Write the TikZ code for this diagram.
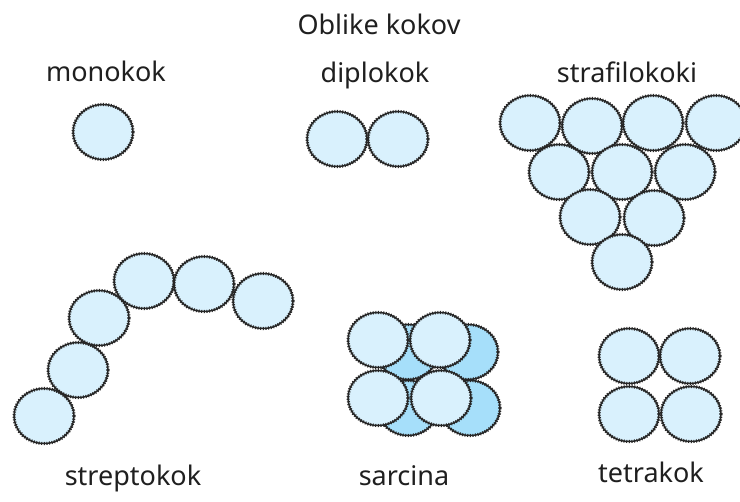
\documentclass[tikz,border=0pt]{standalone}
\usepackage{fontspec}
\setmainfont{Noto Sans}
\usetikzlibrary{shapes.geometric}
\definecolor{cellfront}{HTML}{D9F1FD}
\definecolor{cellback}{HTML}{A6DFFA}
\definecolor{cellrim}{HTML}{262626}
\tikzset{
  x=1pt, y=-1pt,
  coccus/.style={ellipse, inner sep=0pt, minimum width=60pt, minimum height=55pt,
    draw=cellrim, line width=1.5pt, fill=cellfront,
    postaction={draw=cellrim, line width=3.2pt, dash pattern=on 1pt off 1.6pt}},
  coccusback/.style={coccus, fill=cellback},
  caption/.style={font=\fontsize{27}{30}\selectfont, text=black!88, inner sep=0pt, anchor=base}
}
\begin{document}
\begin{tikzpicture}
\useasboundingbox (0,0) rectangle (740,502);
% headings
\node[caption] (title) at (379,35) {Oblike kokov};
\node[caption] (lmono) at (106,82) {monokok};
\node[caption] (ldiplo) at (375,83) {diplokok};
\node[caption] (lstaph) at (627,83) {strafilokoki};
\node[caption] (lstrep) at (133,486) {streptokok};
\node[caption] (lsarc) at (404,486) {sarcina};
\node[caption] (ltetra) at (651,483) {tetrakok};
% single coccus
\node[coccus] (m1) at (103,132) {};
% pair
\node[coccus] (d1) at (337,139) {};
\node[coccus] (d2) at (398,139) {};
% grape-like cluster
\node[coccus] (s1) at (530,123) {};
\node[coccus] (s2) at (592,126) {};
\node[coccus] (s3) at (653,123) {};
\node[coccus] (s4) at (716,123) {};
\node[coccus] (s5) at (559,172) {};
\node[coccus] (s6) at (622,172) {};
\node[coccus] (s7) at (685,172) {};
\node[coccus] (s8) at (590,217) {};
\node[coccus] (s9) at (654,218) {};
\node[coccus] (s10) at (622,262) {};
% chain
\node[coccus] (c1) at (44,416) {};
\node[coccus] (c2) at (78,370) {};
\node[coccus] (c3) at (99,318) {};
\node[coccus] (c4) at (144,281) {};
\node[coccus] (c5) at (204,284) {};
\node[coccus] (c6) at (263,301) {};
% cubical packet: rear layer first
\node[coccusback] (b1) at (408,352) {};
\node[coccusback] (b2) at (468,352) {};
\node[coccusback] (b3) at (408,408) {};
\node[coccusback] (b4) at (470,408) {};
\node[coccus] (f1) at (378,340) {};
\node[coccus] (f2) at (440,340) {};
\node[coccus] (f3) at (378,398) {};
\node[coccus] (f4) at (441,398) {};
% group of four
\node[coccus] (t1) at (629,356) {};
\node[coccus] (t2) at (690,356) {};
\node[coccus] (t3) at (629,414) {};
\node[coccus] (t4) at (691,414) {};
\end{tikzpicture}
\end{document}
